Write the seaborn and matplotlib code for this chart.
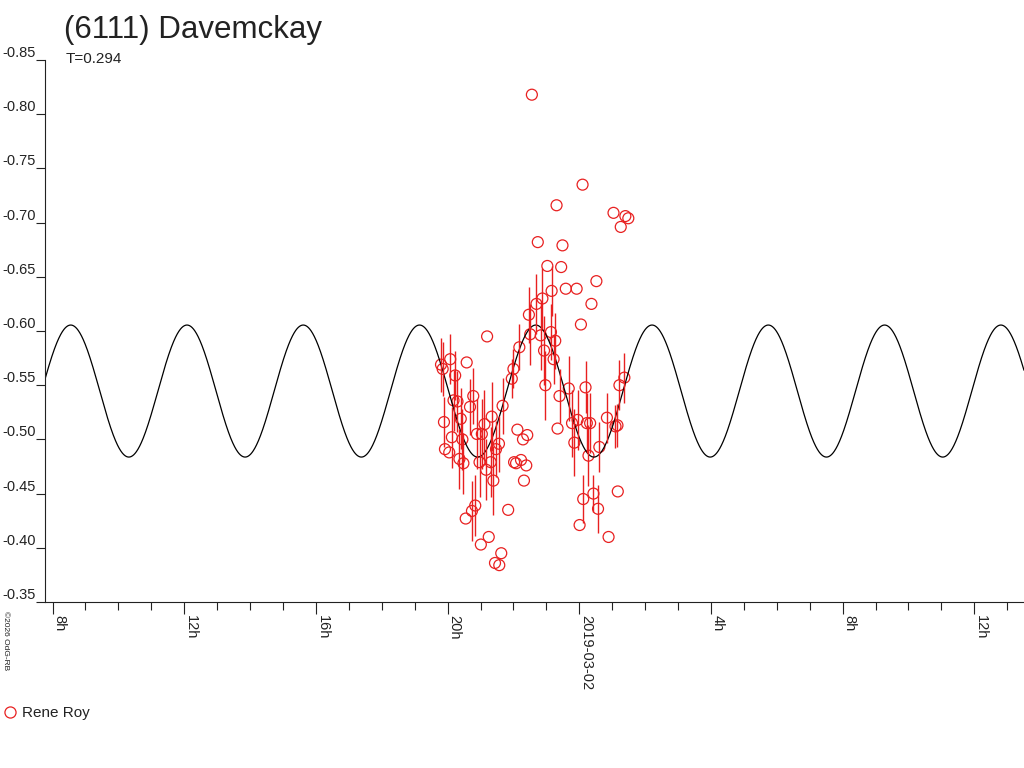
import numpy as np
import pandas as pd
import matplotlib
matplotlib.use("Agg")
import matplotlib.pyplot as plt
import seaborn as sns
from matplotlib.ticker import MultipleLocator, FuncFormatter, FormatStrFormatter
from matplotlib.lines import Line2D

# observations, hours counted from 2019-03-01 00:00 UT
obs_hours = [
    22.56, 24.10, 23.31, 25.04, 25.40, 25.49, 25.26, 22.74, 23.49, 23.03,
    23.45, 24.52, 23.16, 23.59, 23.92, 22.88, 22.70, 24.37, 22.47, 24.05,
    21.20, 22.51, 22.83, 23.14, 23.27, 22.93, 23.22, 22.18, 22.00, 21.95,
    22.97, 23.68, 23.40, 24.19, 25.22, 25.37, 21.67, 21.34, 23.34, 23.78,
    23.95, 24.23, 24.33, 24.84, 25.10, 25.16, 22.12, 22.42, 22.29, 23.85,
    24.28, 24.61, 24.12, 24.43, 24.57, 25.17, 24.01, 24.89, 21.84, 22.32,
    22.08, 22.23, 22.39, 22.02, 20.08, 20.58, 19.80, 19.85, 20.23, 20.18,
    20.30, 20.78, 20.68, 19.89, 20.40, 21.12, 20.89, 21.04, 20.13, 20.45,
    21.56, 21.47, 19.92, 20.05, 20.36, 20.48, 20.97, 21.31, 21.17, 21.39,
    20.84, 20.74, 20.55, 21.25, 21.01, 21.63, 21.44, 21.57,
]
obs_mag = [
    -0.818, -0.735, -0.716, -0.709, -0.706, -0.704, -0.696, -0.682, -0.679, -0.660,
    -0.659, -0.646, -0.637, -0.639, -0.639, -0.630, -0.625, -0.625, -0.615, -0.606,
    -0.595, -0.597, -0.596, -0.599, -0.591, -0.582, -0.574, -0.585, -0.565, -0.556,
    -0.550, -0.547, -0.540, -0.548, -0.550, -0.557, -0.531, -0.521, -0.510, -0.515,
    -0.518, -0.515, -0.515, -0.520, -0.512, -0.513, -0.509, -0.504, -0.500, -0.497,
    -0.485, -0.493, -0.445, -0.450, -0.436, -0.452, -0.421, -0.410, -0.435, -0.462,
    -0.478, -0.481, -0.476, -0.479, -0.574, -0.571, -0.569, -0.565, -0.559, -0.536,
    -0.535, -0.540, -0.530, -0.516, -0.519, -0.514, -0.505, -0.505, -0.502, -0.500,
    -0.496, -0.491, -0.491, -0.488, -0.482, -0.478, -0.479, -0.479, -0.472, -0.462,
    -0.439, -0.434, -0.427, -0.410, -0.403, -0.395, -0.386, -0.384,
]
obs_err = [
    0, 0, 0, 0, 0, 0, 0, 0, 0, 0,
    0, 0, 0.023, 0, 0, 0.028, 0.028, 0, 0.026, 0,
    0, 0.028, 0.032, 0.026, 0.026, 0.032, 0.023, 0.021, 0.018, 0.018,
    0.032, 0.030, 0.025, 0.024, 0.023, 0.023, 0.026, 0.032, 0, 0.031,
    0.028, 0.028, 0.028, 0.023, 0.020, 0.020, 0, 0, 0, 0.031,
    0.028, 0.023, 0.022, 0.017, 0.022, 0, 0, 0, 0, 0,
    0, 0, 0, 0, 0.023, 0, 0.025, 0.025, 0.023, 0.028,
    0.028, 0.026, 0.026, 0.023, 0.028, 0.032, 0.032, 0.032, 0.028, 0.028,
    0.026, 0.026, 0, 0, 0.028, 0.028, 0.032, 0.032, 0.028, 0.032,
    0.028, 0.028, 0, 0, 0, 0, 0, 0,
]

# fitted light curve
period_h = 3.532
peak_hour = 8.551
mean_mag = -0.5446
amplitude = 0.0609

observer = "Rene Roy"
title = "(6111) Davemckay"
subtitle = "T=0.294"
start_day = pd.Timestamp("2019-03-01")

RED = "#e82020"
INK = "#222222"

sns.set_style("ticks")
plt.rcParams["font.family"] = ["Liberation Sans", "DejaVu Sans"]

df = pd.DataFrame({"hours": obs_hours, "mag": obs_mag, "err": obs_err})

fig = plt.figure(figsize=(10.24, 7.68), dpi=100)
ax = fig.add_axes([45 / 1024, 166 / 768, 979 / 1024, 542 / 768])

x_lo, x_hi = 7.77, 37.51
t = np.linspace(x_lo, x_hi, 3000)
fit = mean_mag - amplitude * np.cos(2 * np.pi * (t - peak_hour) / period_h)
sns.lineplot(x=t, y=fit, color="black", linewidth=0.9, ax=ax)

bars = df[df["err"] > 0]
ax.errorbar(bars["hours"], bars["mag"], yerr=bars["err"], fmt="none",
            ecolor=RED, elinewidth=1.0, capsize=0)
sns.scatterplot(data=df, x="hours", y="mag", marker="o", s=62,
                facecolor="none", edgecolor=RED, linewidth=0.9,
                legend=False, ax=ax)

ax.set_xlim(x_lo, x_hi)
ax.set_ylim(-0.35, -0.85)
ax.set_xlabel("")
ax.set_ylabel("")
sns.despine(ax=ax)
for side in ["left", "bottom"]:
    ax.spines[side].set_color(INK)
    ax.spines[side].set_linewidth(0.8)


def hour_label(v, pos):
    h = int(round(v))
    if h % 24 == 0:
        return (start_day + pd.Timedelta(hours=h)).strftime("%Y-%m-%d")
    return f"{h % 24}h"


ax.xaxis.set_major_locator(MultipleLocator(4))
ax.xaxis.set_minor_locator(MultipleLocator(1))
ax.xaxis.set_major_formatter(FuncFormatter(hour_label))
ax.yaxis.set_major_locator(MultipleLocator(0.05))
ax.yaxis.set_major_formatter(FormatStrFormatter("%.2f"))

ax.tick_params(axis="y", direction="out", length=6.5, width=0.8, pad=0,
               labelsize=10.5, colors=INK)
ax.tick_params(axis="x", which="major", direction="out", length=8.6, width=0.8,
               pad=0.5, labelsize=10.5, colors=INK, labelrotation=270)
ax.tick_params(axis="x", which="minor", direction="out", length=5.8, width=0.8,
               colors=INK)
plt.setp(ax.get_yticklabels(), va="bottom")
plt.setp(ax.get_xticklabels(), ha="left", va="top")

fig.text(64 / 1024, 1 - 38 / 768, title, fontsize=22.5, color=INK, va="baseline")
fig.text(66 / 1024, 1 - 63 / 768, subtitle, fontsize=11, color=INK, va="baseline")
fig.text(2 / 1024, 1 - 611 / 768, "©2026 OdG-RB", rotation=270, fontsize=6,
         color=INK, ha="left", va="top")

handle = Line2D([], [], marker="o", linestyle="none", markerfacecolor="none",
                markeredgecolor=RED, markersize=8, markeredgewidth=0.9)
fig.legend(handles=[handle], labels=[observer], loc="center left",
           bbox_to_anchor=(2 / 1024, 1 - 713 / 768), frameon=False,
           handlelength=1.0, handletextpad=0.3, borderpad=0, borderaxespad=0,
           fontsize=11, labelcolor=INK)

fig.savefig("out.png", dpi=100)
